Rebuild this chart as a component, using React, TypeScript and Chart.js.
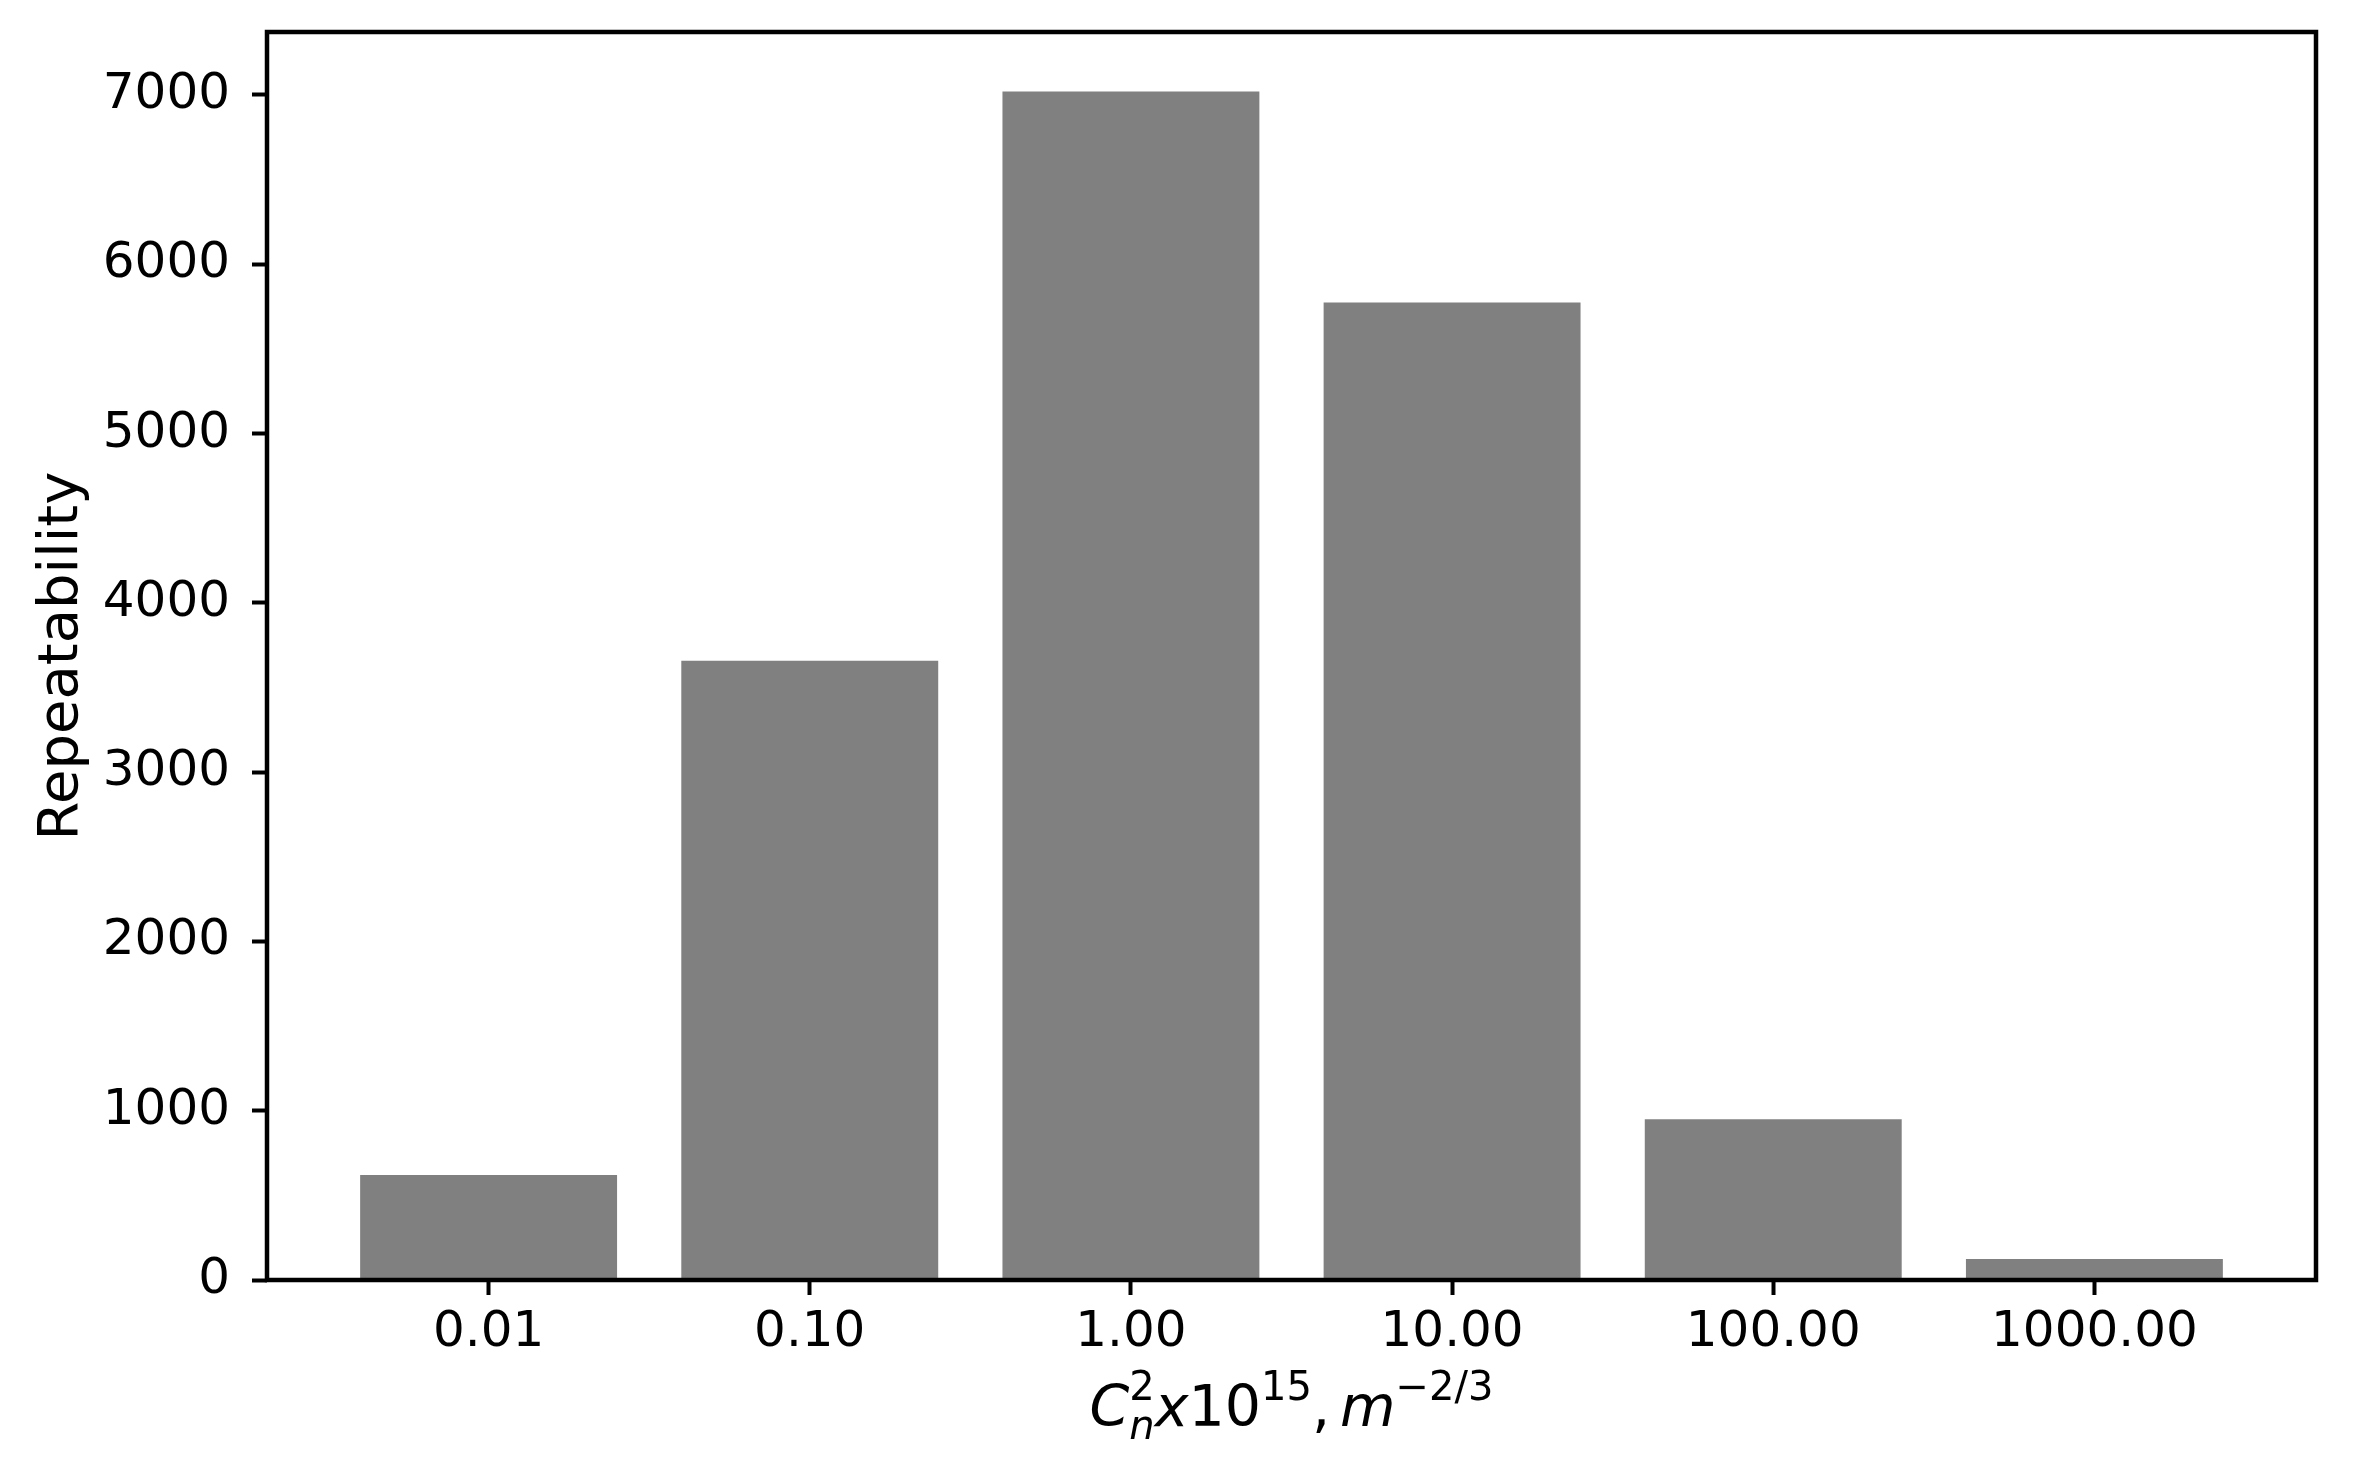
import React, { useEffect, useRef } from "react";
import { Chart, registerables } from "chart.js";

Chart.register(...registerables);

const categories = ["0.01", "0.10", "1.00", "10.00", "100.00", "1000.00"];
const repeatability = [620, 3658, 7021, 5774, 950, 124];
const yTickValues = [0, 1000, 2000, 3000, 4000, 5000, 6000, 7000];
const yAxisTitle = "Repeatability";

const FAMILY = "'DejaVu Sans', sans-serif";

type Piece = { t: string; italic?: boolean; size: number; dy?: number };
type Group = { stack?: Piece[]; piece?: Piece; gapAfter?: number };

const xTitleGroups: Group[] = [
  { piece: { t: "C", italic: true, size: 57 } },
  {
    stack: [
      { t: "2", size: 40, dy: -26 },
      { t: "n", italic: true, size: 40, dy: 13 },
    ],
  },
  { piece: { t: "x", italic: true, size: 57 } },
  { piece: { t: "10", size: 57 } },
  { piece: { t: "15", size: 40, dy: -26 } },
  { piece: { t: ",", size: 57 }, gapAfter: 10 },
  { piece: { t: "m", italic: true, size: 57 } },
  { piece: { t: "\u22122/3", size: 40, dy: -26 } },
];

export default function App() {
  const ref = useRef<HTMLCanvasElement>(null);

  useEffect(() => {
    document.body.style.margin = "0";
    const canvas = ref.current;
    if (!canvas) return;

    const framePlugin = {
      id: "frame",
      afterDatasetsDraw(chart: any) {
        const { ctx, chartArea: a } = chart;
        ctx.save();
        ctx.strokeStyle = "#000";
        ctx.lineWidth = 4.5;
        ctx.strokeRect(a.left, a.top, a.right - a.left, a.bottom - a.top);
        ctx.restore();
      },
    };

    const xTitlePlugin = {
      id: "xtitle",
      afterDraw(chart: any) {
        const { ctx, chartArea: a } = chart;
        const fontOf = (p: Piece) =>
          `${p.italic ? "italic " : ""}${p.size}px ${FAMILY}`;
        const widthOf = (p: Piece) => {
          ctx.font = fontOf(p);
          return ctx.measureText(p.t).width;
        };
        ctx.save();
        let total = 0;
        const widths = xTitleGroups.map((g) => {
          const w = g.stack
            ? Math.max(...g.stack.map(widthOf))
            : widthOf(g.piece as Piece);
          total += w + (g.gapAfter || 0);
          return w;
        });
        const cx = (a.left + a.right) / 2;
        const baseY = a.bottom + 146;
        let x = cx - total / 2;
        ctx.fillStyle = "#000";
        ctx.textBaseline = "alphabetic";
        ctx.textAlign = "left";
        xTitleGroups.forEach((g, i) => {
          const list = g.stack ? g.stack : [g.piece as Piece];
          list.forEach((p) => {
            ctx.font = fontOf(p);
            ctx.fillText(p.t, x, baseY + (p.dy || 0));
          });
          x += widths[i] + (g.gapAfter || 0);
        });
        ctx.restore();
      },
    };

    const tickFont = { family: FAMILY, size: 50 };

    const chart = new Chart(canvas, {
      type: "bar",
      data: {
        datasets: [
          {
            data: repeatability.map((v, i) => ({ x: i, y: v })),
            backgroundColor: "#808080",
            borderWidth: 0,
            barPercentage: 0.8,
            categoryPercentage: 1,
          },
        ],
      },
      options: {
        animation: false,
        responsive: false,
        maintainAspectRatio: false,
        layout: { padding: { top: 32, right: 46, left: 0, bottom: 0 } },
        plugins: {
          legend: { display: false },
          tooltip: { enabled: false },
        },
        scales: {
          x: {
            type: "linear",
            min: -0.69,
            max: 5.69,
            offset: false,
            afterBuildTicks: (s: any) => {
              s.ticks = categories.map((_, i) => ({ value: i }));
            },
            afterFit: (s: any) => {
              s.height = 190;
              s.paddingLeft = 0;
              s.paddingRight = 0;
            },
            grid: {
              display: true,
              offset: false,
              drawOnChartArea: false,
              drawTicks: true,
              tickLength: 15,
              tickWidth: 4,
              tickColor: "#000",
            },
            border: { display: false },
            ticks: {
              autoSkip: false,
              maxRotation: 0,
              padding: 8,
              color: "#000",
              font: tickFont,
              callback: (v: any) => categories[v] ?? "",
            },
          },
          y: {
            type: "linear",
            min: 0,
            max: Math.max(...repeatability) * 1.05,
            afterBuildTicks: (s: any) => {
              s.ticks = yTickValues.map((v) => ({ value: v }));
            },
            afterFit: (s: any) => {
              s.width = 267;
              s.paddingTop = 0;
              s.paddingBottom = 0;
            },
            grid: {
              display: true,
              drawOnChartArea: false,
              drawTicks: true,
              tickLength: 15,
              tickWidth: 4,
              tickColor: "#000",
            },
            border: { display: false },
            ticks: {
              padding: 22,
              color: "#000",
              font: tickFont,
              callback: (v: any) => String(v),
            },
            title: {
              display: true,
              text: yAxisTitle,
              color: "#000",
              font: { family: FAMILY, size: 56 },
              padding: { top: 29, bottom: 0 },
            },
          },
        },
      },
      plugins: [framePlugin, xTitlePlugin],
    } as any);

    return () => chart.destroy();
  }, []);

  return (
    <canvas
      ref={ref}
      width={2362}
      height={1470}
      style={{ display: "block", width: 2362, height: 1470 }}
    />
  );
}
